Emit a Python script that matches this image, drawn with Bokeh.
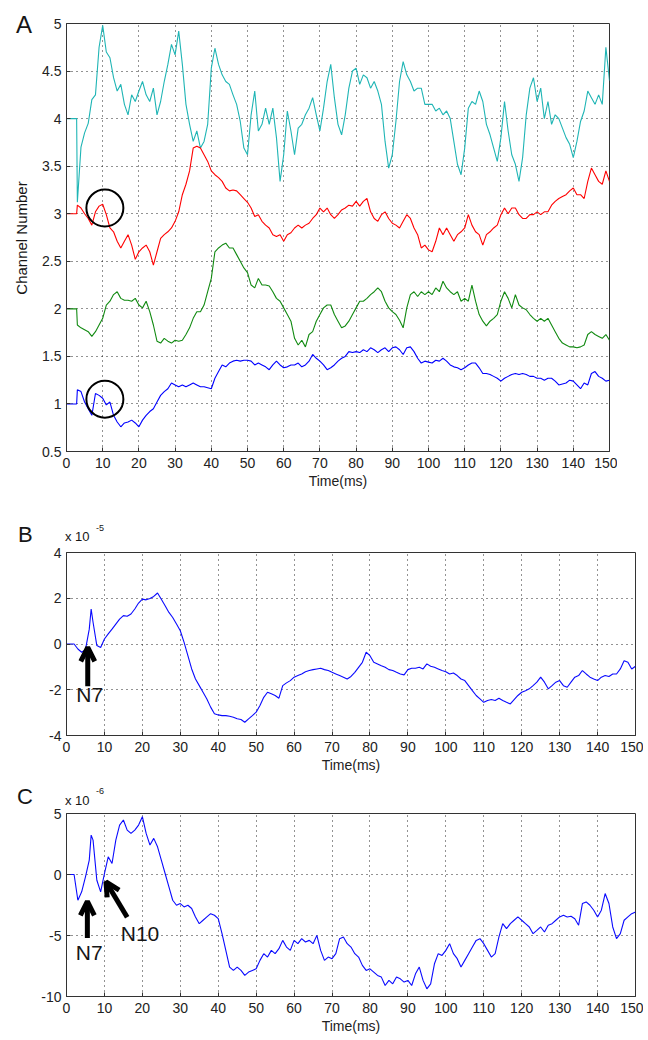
from bokeh.plotting import figure
from bokeh.layouts import column, row
from bokeh.models import Range1d, FixedTicker, Arrow, OpenHead, CustomJSTickFormatter, Label, Div
from bokeh.embed import file_html
from bokeh.resources import INLINE

# ---------------- data: panel A (channel number traces) ----------------
t_a = [0, 2.8] + list(range(3, 151))

cyan_a = [4.0, 4.0,
    3.12, 3.70, 3.85, 3.95, 4.20, 4.25, 4.75, 4.98, 4.70, 4.64,
    4.43, 4.29, 4.36, 4.15, 4.04, 4.25, 4.18, 4.29, 4.39, 4.25,
    4.18, 4.32, 4.04, 4.18, 4.39, 4.57, 4.78, 4.67, 4.92, 4.57,
    4.15, 3.94, 3.76, 3.87, 3.69, 3.76, 3.94, 4.53, 4.74, 4.57,
    4.46, 4.39, 4.36, 4.25, 4.15, 3.97, 3.69, 3.62, 4.04, 4.29,
    3.87, 3.94, 4.11, 3.94, 4.11, 3.80, 3.34, 3.62, 4.08, 3.87,
    3.62, 3.90, 3.94, 4.04, 4.11, 4.22, 4.04, 3.87, 4.11, 4.39,
    4.57, 4.22, 3.94, 3.83, 4.04, 4.32, 4.50, 4.53, 4.36, 4.46,
    4.43, 4.32, 4.39, 4.29, 4.15, 3.76, 3.48, 3.62, 3.97, 4.39,
    4.60, 4.46, 4.39, 4.29, 4.32, 4.32, 4.15, 4.15, 4.15, 4.08,
    4.11, 4.04, 4.08, 4.00, 3.76, 3.52, 3.41, 3.69, 4.11, 4.18,
    4.15, 4.29, 4.18, 3.94, 3.83, 3.69, 3.55, 3.80, 4.18, 3.87,
    3.62, 3.52, 3.34, 3.59, 4.04, 4.32, 4.43, 4.18, 4.32, 4.00,
    4.18, 3.94, 4.04, 4.00, 3.90, 3.80, 3.73, 3.59, 3.76, 3.97,
    4.08, 4.29, 4.22, 4.15, 4.25, 4.15, 4.75, 4.40]

red_a = [3.0, 3.0,
    3.09, 3.06, 3.00, 2.95, 2.88, 3.02, 3.08, 3.10, 2.99, 2.85,
    2.81, 2.71, 2.64, 2.71, 2.78, 2.67, 2.52, 2.60, 2.64, 2.67,
    2.60, 2.46, 2.60, 2.74, 2.78, 2.81, 2.85, 2.92, 3.02, 3.20,
    3.31, 3.45, 3.69, 3.71, 3.69, 3.62, 3.55, 3.45, 3.41, 3.38,
    3.34, 3.27, 3.24, 3.25, 3.24, 3.20, 3.16, 3.12, 3.06, 2.97,
    2.99, 2.92, 2.88, 2.85, 2.78, 2.76, 2.78, 2.71, 2.78, 2.80,
    2.85, 2.88, 2.85, 2.88, 2.90, 2.95, 2.99, 3.06, 3.02, 3.06,
    2.99, 2.95, 2.99, 3.04, 3.06, 3.09, 3.08, 3.13, 3.08, 3.13,
    3.16, 3.02, 2.95, 2.92, 2.99, 3.02, 2.95, 2.90, 2.88, 2.85,
    2.92, 2.99, 2.95, 2.85, 2.78, 2.64, 2.67, 2.62, 2.60, 2.71,
    2.85, 2.78, 2.85, 2.78, 2.71, 2.78, 2.81, 2.85, 2.99, 2.88,
    2.81, 2.78, 2.67, 2.78, 2.81, 2.85, 2.88, 2.99, 3.06, 3.00,
    3.06, 3.06, 2.99, 2.95, 2.95, 2.99, 2.99, 3.02, 2.99, 3.02,
    3.02, 3.09, 3.13, 3.16, 3.18, 3.20, 3.24, 3.27, 3.20, 3.20,
    3.16, 3.34, 3.48, 3.41, 3.34, 3.31, 3.45, 3.34]

green_a = [2.0, 2.0,
    1.83, 1.80, 1.78, 1.76, 1.71, 1.76, 1.83, 1.90, 2.04, 2.08,
    2.15, 2.18, 2.11, 2.09, 2.09, 2.08, 2.11, 2.04, 2.01, 2.08,
    1.97, 1.83, 1.66, 1.64, 1.69, 1.66, 1.64, 1.67, 1.66, 1.67,
    1.73, 1.80, 1.90, 1.97, 1.97, 2.04, 2.18, 2.32, 2.60, 2.64,
    2.67, 2.69, 2.64, 2.64, 2.57, 2.50, 2.43, 2.38, 2.25, 2.22,
    2.32, 2.25, 2.25, 2.24, 2.18, 2.11, 2.08, 2.01, 1.94, 1.87,
    1.69, 1.62, 1.67, 1.60, 1.73, 1.76, 1.87, 1.94, 2.01, 2.04,
    2.04, 1.94, 1.87, 1.80, 1.82, 1.87, 1.94, 2.01, 2.08, 2.08,
    2.11, 2.15, 2.18, 2.22, 2.18, 2.08, 2.01, 1.97, 1.94, 1.88,
    1.80, 2.01, 2.15, 2.18, 2.13, 2.18, 2.15, 2.18, 2.15, 2.22,
    2.18, 2.29, 2.22, 2.18, 2.15, 2.18, 2.08, 2.11, 2.08, 2.25,
    2.08, 1.94, 1.87, 1.82, 1.87, 1.90, 1.94, 2.08, 2.18, 2.11,
    2.01, 2.15, 2.04, 2.01, 1.99, 1.94, 1.90, 1.87, 1.90, 1.87,
    1.90, 1.83, 1.76, 1.69, 1.64, 1.62, 1.60, 1.60, 1.59, 1.60,
    1.62, 1.73, 1.76, 1.73, 1.71, 1.69, 1.73, 1.67]

blue_a = [1.0, 1.0,
    1.15, 1.13, 1.02, 0.95, 0.88, 1.11, 1.09, 1.06, 0.99, 1.02,
    0.88, 0.81, 0.76, 0.80, 0.81, 0.83, 0.80, 0.76, 0.83, 0.88,
    0.92, 0.95, 1.02, 1.09, 1.13, 1.16, 1.22, 1.20, 1.18, 1.20,
    1.18, 1.20, 1.22, 1.20, 1.18, 1.18, 1.17, 1.16, 1.27, 1.34,
    1.41, 1.39, 1.43, 1.45, 1.46, 1.45, 1.46, 1.46, 1.45, 1.41,
    1.43, 1.41, 1.39, 1.36, 1.41, 1.45, 1.41, 1.38, 1.39, 1.41,
    1.41, 1.43, 1.39, 1.41, 1.45, 1.52, 1.48, 1.45, 1.41, 1.36,
    1.38, 1.41, 1.45, 1.48, 1.50, 1.55, 1.54, 1.55, 1.54, 1.57,
    1.55, 1.59, 1.57, 1.54, 1.57, 1.59, 1.55, 1.59, 1.60, 1.57,
    1.52, 1.59, 1.60, 1.55, 1.48, 1.43, 1.45, 1.44, 1.43, 1.46,
    1.45, 1.48, 1.45, 1.41, 1.39, 1.38, 1.36, 1.38, 1.41, 1.43,
    1.43, 1.38, 1.32, 1.32, 1.31, 1.29, 1.27, 1.24, 1.27, 1.29,
    1.31, 1.32, 1.31, 1.32, 1.31, 1.29, 1.29, 1.27, 1.27, 1.25,
    1.27, 1.27, 1.24, 1.20, 1.21, 1.22, 1.25, 1.24, 1.20, 1.16,
    1.22, 1.20, 1.32, 1.34, 1.29, 1.27, 1.24, 1.25]

# ---------------- data: panels B and C ----------------
t_bc = [0, 1, 2, 3, 4, 5, 6, 6.5] + list(range(7, 151))

trace_b = [0, 0, 0, -0.22, -0.36, -0.25, 0.65, 1.53,
    0.95, -0.07, -0.15, 0.22, 0.44, 0.65, 0.87, 1.09, 1.24, 1.21,
    1.31, 1.53, 1.79, 1.96, 1.93, 1.99, 2.08, 2.23, 1.96, 1.67,
    1.38, 1.16, 0.87, 0.58, 0.07, -0.51, -1.09, -1.53, -1.82, -2.11,
    -2.40, -2.76, -3.05, -3.10, -3.13, -3.13, -3.16, -3.20, -3.27, -3.30,
    -3.42, -3.27, -3.13, -2.98, -2.69, -2.33, -2.11, -2.18, -2.25, -2.37,
    -1.82, -1.70, -1.60, -1.45, -1.38, -1.31, -1.21, -1.16, -1.12, -1.09,
    -1.06, -1.12, -1.16, -1.24, -1.31, -1.38, -1.45, -1.53, -1.42, -1.24,
    -1.02, -0.80, -0.36, -0.51, -0.80, -0.87, -0.95, -1.02, -1.12, -1.16,
    -1.24, -1.31, -1.35, -1.12, -1.06, -1.06, -1.02, -1.09, -0.87, -0.97,
    -1.02, -1.09, -1.16, -1.21, -1.31, -1.27, -1.38, -1.53, -1.60, -1.82,
    -2.04, -2.25, -2.40, -2.55, -2.47, -2.43, -2.47, -2.37, -2.47, -2.55,
    -2.62, -2.43, -2.25, -2.11, -2.04, -1.96, -1.82, -1.67, -1.45, -1.67,
    -1.96, -1.82, -1.67, -1.60, -1.82, -1.89, -1.67, -1.45, -1.38, -1.16,
    -1.31, -1.45, -1.53, -1.60, -1.45, -1.38, -1.42, -1.31, -1.31, -1.09,
    -0.73, -0.80, -1.09, -0.97]

trace_c = [0, 0, 0, -2.11, -1.42, -0.19, 1.18, 3.23,
    2.82, -0.47, -1.42, 0.08, 1.45, 0.90, 2.82, 4.05, 4.47, 3.64,
    3.37, 3.64, 4.05, 4.74, 3.37, 2.41, 2.96, 2.27, 1.18, 0.08,
    -1.01, -2.11, -2.52, -2.38, -2.66, -2.52, -2.79, -3.48, -4.03, -3.75,
    -3.48, -3.21, -3.34, -3.62, -4.85, -6.22, -7.59, -7.86, -7.59, -7.86,
    -8.27, -8.00, -7.86, -7.73, -7.04, -6.49, -6.77, -6.22, -6.49, -6.08,
    -5.40, -5.95, -6.22, -5.40, -5.67, -5.26, -5.53, -5.40, -5.67, -4.99,
    -6.22, -7.04, -6.77, -6.90, -6.49, -5.26, -5.12, -5.67, -5.95, -6.49,
    -6.77, -7.45, -7.86, -7.73, -8.00, -8.27, -8.41, -9.10, -8.68, -8.96,
    -8.41, -8.55, -8.82, -8.68, -9.10, -8.14, -7.59, -8.68, -9.37, -8.96,
    -7.32, -6.49, -6.63, -6.22, -5.67, -6.49, -6.90, -7.59, -7.04, -6.49,
    -5.95, -5.40, -5.26, -5.67, -6.22, -6.77, -6.49, -5.12, -4.03, -4.44,
    -4.03, -3.75, -3.48, -3.75, -4.03, -4.30, -4.85, -4.58, -4.30, -4.71,
    -4.16, -4.03, -3.75, -3.48, -3.34, -3.48, -3.42, -3.62, -4.16, -2.38,
    -2.25, -2.52, -2.93, -3.48, -2.93, -1.56, -2.38, -4.30, -5.26, -4.85,
    -3.75, -3.48, -3.21, -3.07]

x_ticks = list(range(0, 151, 10))
y_ticks_a = [0.5, 1, 1.5, 2, 2.5, 3, 3.5, 4, 4.5, 5]
y_ticks_b = [-4, -2, 0, 2, 4]
y_ticks_c = [-10, -5, 0, 5]

FONT = "Liberation Sans"
INK = "#161616"


def pair(t, y):
    n = min(len(t), len(y))
    return t[:n], y[:n]


def make_fig(frame_w, frame_h, left, top, bottom, yr, yticks):
    p = figure(frame_width=frame_w, frame_height=frame_h,
               min_border_left=left, min_border_right=8,
               min_border_top=top, min_border_bottom=bottom,
               x_range=Range1d(0, 150), y_range=Range1d(*yr),
               output_backend="svg", toolbar_location=None,
               background_fill_color="white", border_fill_color="white")
    p.outline_line_color = "#333333"
    p.outline_line_width = 1
    fmt = CustomJSTickFormatter(code="return tick.toString();")
    for ax in (p.xaxis, p.yaxis):
        ax.major_label_text_font = FONT
        ax.major_label_text_font_size = "14px"
        ax.major_label_text_color = "#222222"
        ax.axis_label_text_font = FONT
        ax.axis_label_text_font_size = "14px"
        ax.axis_label_text_font_style = "normal"
        ax.axis_label_text_color = "#222222"
        ax.axis_line_color = "#333333"
        ax.major_tick_in = 4
        ax.major_tick_out = 0
        ax.major_tick_line_color = "#333333"
        ax.minor_tick_line_color = None
        ax.formatter = fmt
    p.xaxis.ticker = FixedTicker(ticks=x_ticks)
    p.yaxis.ticker = FixedTicker(ticks=yticks)
    p.xaxis.axis_label = "Time(ms)"
    p.xaxis.major_label_standoff = 6
    p.xaxis.axis_label_standoff = 2
    p.yaxis.major_label_standoff = 5
    for g in (p.xgrid, p.ygrid):
        g.grid_line_color = "black"
        g.grid_line_dash = "1 4"
        g.grid_line_alpha = 0.85
        g.grid_line_width = 1
    return p


def span(left, baseline, txt, size, extra=""):
    # line-height 1: the alphabetic baseline sits ~0.85 em below the box top
    top = baseline - 0.8465 * size
    return (f'<span style="position:absolute;left:{left}px;top:{top:.1f}px;'
            f"font-family:'{FONT}',sans-serif;font-size:{size}px;line-height:1;"
            f'color:{INK};white-space:nowrap;{extra}">{txt}</span>')


def text_box(w, h, spans):
    html = (f'<div style="position:relative;width:{w}px;height:{h}px;overflow:visible;">'
            + "".join(spans) + "</div>")
    return Div(text=html, width=w, height=h, margin=0)


# ---------------- Panel A ----------------  (rows: 0..495)
pa = make_fig(543, 428, 30, 23, 44, (0.5, 5), y_ticks_a)
for ys, col in ((cyan_a, "#1fb5b5"), (red_a, "#ff0000"),
                (green_a, "#118a11"), (blue_a, "#0000ff")):
    xx, yy = pair(t_a, ys)
    pa.line(xx, yy, line_color=col, line_width=1.1)
pa.scatter(x=[10.6, 10.6], y=[3.06, 1.05], size=37, marker="circle",
           fill_color=None, line_color="black", line_width=2)

side_a = text_box(36, 495, [
    span(16, 33, "A", 24),
    (f'<span style="position:absolute;left:21px;top:238px;'
     f"transform:translate(-50%,-50%) rotate(-90deg);"
     f"font-family:'{FONT}',sans-serif;font-size:15px;line-height:1;"
     f'color:{INK};white-space:nowrap;">Channel Number</span>'),
])
row_a = row(side_a, pa, spacing=0)

# ---------------- Panel B ----------------  (header 495..542, plot 542..779)
head_b = text_box(643, 47, [
    span(18, 48, "B", 22),
    span(65, 46, "x 10", 13),
    span(96, 37, "-5", 9),
])

pb = make_fig(569, 183, 66, 10, 44, (-4, 4), y_ticks_b)
xx, yy = pair(t_bc, trace_b)
pb.line(xx, yy, line_color="#0a0aff", line_width=1.1)
pb.add_layout(Arrow(end=OpenHead(size=14, line_width=5, line_color="black"),
                    x_start=5.6, y_start=-1.85, x_end=5.6, y_end=-0.15,
                    line_width=5, line_color="black"))
pb.add_layout(Label(x=6.1, y=-2.7, text="N7", text_align="center",
                    text_font=FONT, text_font_size="21px", text_color=INK))

# ---------------- Panel C ----------------  (header 779..806, plot 806..1038)
head_c = text_box(643, 27, [
    span(17, 26, "C", 22),
    span(65, 26, "x 10", 13),
    span(96, 16, "-6", 9),
])

pc = make_fig(569, 183, 66, 7, 42, (-10, 5), y_ticks_c)
xx, yy = pair(t_bc, trace_c)
pc.line(xx, yy, line_color="#0a0aff", line_width=1.1)
pc.add_layout(Arrow(end=OpenHead(size=14, line_width=5, line_color="black"),
                    x_start=5.5, y_start=-5.2, x_end=5.5, y_end=-2.2,
                    line_width=5, line_color="black"))
pc.add_layout(Arrow(end=OpenHead(size=14, line_width=5, line_color="black"),
                    x_start=16.0, y_start=-3.5, x_end=10.4, y_end=-0.6,
                    line_width=5, line_color="black"))
pc.add_layout(Label(x=6.0, y=-7.3, text="N7", text_align="center",
                    text_font=FONT, text_font_size="21px", text_color=INK))
pc.add_layout(Label(x=14.3, y=-5.8, text="N10", text_align="left",
                    text_font=FONT, text_font_size="21px", text_color=INK))

layout = column(row_a, head_b, pb, head_c, pc, spacing=0)
open("out.html", "w").write(file_html(layout, INLINE))
